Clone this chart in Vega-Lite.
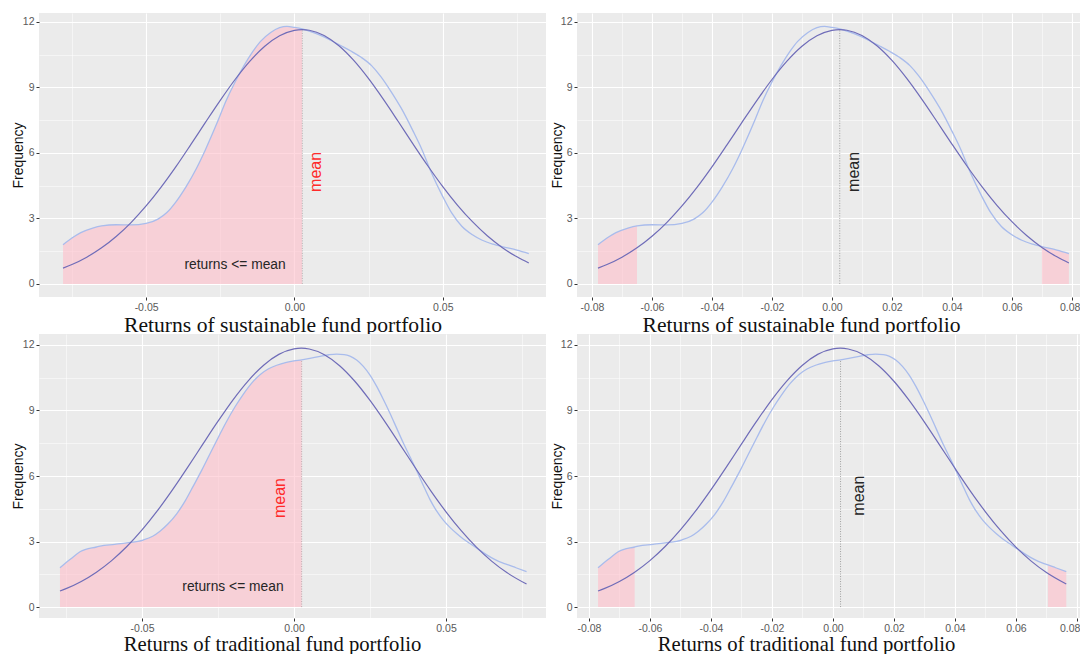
{
  "$schema": "https://vega.github.io/schema/vega-lite/v6.json",
  "padding": {"left": 11, "top": 13, "right": 0, "bottom": 0},
  "bounds": "flush",
  "columns": 2,
  "spacing": {"row": 37, "column": 31},
  "datasets": {
    "sus_norm": [
      {"x": -0.078, "y": 0.725}, {"x": -0.075, "y": 0.888}, {"x": -0.07, "y": 1.224}, {"x": -0.065, "y": 1.651},
      {"x": -0.06, "y": 2.182}, {"x": -0.055, "y": 2.822}, {"x": -0.05, "y": 3.57}, {"x": -0.045, "y": 4.421},
      {"x": -0.04, "y": 5.361}, {"x": -0.035, "y": 6.368}, {"x": -0.03, "y": 7.399}, {"x": -0.025, "y": 8.41},
      {"x": -0.02, "y": 9.364}, {"x": -0.015, "y": 10.205}, {"x": -0.01, "y": 10.886}, {"x": -0.005, "y": 11.366},
      {"x": 0, "y": 11.616}, {"x": 0.0026, "y": 11.65}, {"x": 0.005, "y": 11.621}, {"x": 0.01, "y": 11.381},
      {"x": 0.015, "y": 10.909}, {"x": 0.02, "y": 10.236}, {"x": 0.025, "y": 9.4}, {"x": 0.03, "y": 8.451},
      {"x": 0.035, "y": 7.438}, {"x": 0.04, "y": 6.406}, {"x": 0.045, "y": 5.402}, {"x": 0.05, "y": 4.458},
      {"x": 0.055, "y": 3.602}, {"x": 0.06, "y": 2.85}, {"x": 0.065, "y": 2.204}, {"x": 0.07, "y": 1.671},
      {"x": 0.075, "y": 1.24}, {"x": 0.079, "y": 0.961}
    ],
    "sus_kde": [
      {"x": -0.078, "y": 1.79}, {"x": -0.075, "y": 2.1}, {"x": -0.072, "y": 2.35}, {"x": -0.068, "y": 2.56},
      {"x": -0.065, "y": 2.66}, {"x": -0.06, "y": 2.71}, {"x": -0.055, "y": 2.7}, {"x": -0.05, "y": 2.77},
      {"x": -0.046, "y": 2.97}, {"x": -0.043, "y": 3.27}, {"x": -0.04, "y": 3.75}, {"x": -0.0365, "y": 4.46},
      {"x": -0.033, "y": 5.3}, {"x": -0.03, "y": 6.15}, {"x": -0.026, "y": 7.4}, {"x": -0.023, "y": 8.4},
      {"x": -0.02, "y": 9.25}, {"x": -0.017, "y": 10.0}, {"x": -0.014, "y": 10.65}, {"x": -0.0115, "y": 11.1},
      {"x": -0.008, "y": 11.52}, {"x": -0.005, "y": 11.74}, {"x": -0.0025, "y": 11.8}, {"x": 0, "y": 11.75},
      {"x": 0.0026, "y": 11.68}, {"x": 0.006, "y": 11.53}, {"x": 0.009, "y": 11.37}, {"x": 0.0125, "y": 11.14},
      {"x": 0.0156, "y": 10.92}, {"x": 0.019, "y": 10.67}, {"x": 0.0225, "y": 10.38}, {"x": 0.026, "y": 10.0},
      {"x": 0.029, "y": 9.52}, {"x": 0.033, "y": 8.72}, {"x": 0.036, "y": 8.05}, {"x": 0.04, "y": 7.0},
      {"x": 0.043, "y": 6.15}, {"x": 0.046, "y": 5.15}, {"x": 0.05, "y": 4.0}, {"x": 0.053, "y": 3.25},
      {"x": 0.0565, "y": 2.63}, {"x": 0.06, "y": 2.25}, {"x": 0.0633, "y": 2.0}, {"x": 0.067, "y": 1.82},
      {"x": 0.07, "y": 1.71}, {"x": 0.075, "y": 1.55}, {"x": 0.079, "y": 1.39}
    ],
    "trad_norm": [
      {"x": -0.077, "y": 0.735}, {"x": -0.075, "y": 0.844}, {"x": -0.07, "y": 1.174}, {"x": -0.065, "y": 1.599},
      {"x": -0.06, "y": 2.128}, {"x": -0.055, "y": 2.771}, {"x": -0.05, "y": 3.53}, {"x": -0.045, "y": 4.399},
      {"x": -0.04, "y": 5.363}, {"x": -0.035, "y": 6.393}, {"x": -0.03, "y": 7.458}, {"x": -0.025, "y": 8.508},
      {"x": -0.02, "y": 9.5}, {"x": -0.015, "y": 10.369}, {"x": -0.01, "y": 11.073}, {"x": -0.005, "y": 11.567},
      {"x": 0, "y": 11.82}, {"x": 0.0024, "y": 11.85}, {"x": 0.005, "y": 11.815}, {"x": 0.01, "y": 11.551},
      {"x": 0.015, "y": 11.049}, {"x": 0.02, "y": 10.337}, {"x": 0.025, "y": 9.46}, {"x": 0.03, "y": 8.468},
      {"x": 0.035, "y": 7.416}, {"x": 0.04, "y": 6.353}, {"x": 0.045, "y": 5.322}, {"x": 0.05, "y": 4.362},
      {"x": 0.055, "y": 3.498}, {"x": 0.06, "y": 2.743}, {"x": 0.065, "y": 2.105}, {"x": 0.07, "y": 1.58},
      {"x": 0.0765, "y": 1.052}
    ],
    "trad_kde": [
      {"x": -0.077, "y": 1.8}, {"x": -0.0735, "y": 2.2}, {"x": -0.0704, "y": 2.53}, {"x": -0.065, "y": 2.75},
      {"x": -0.0638, "y": 2.79}, {"x": -0.059, "y": 2.87}, {"x": -0.055, "y": 2.94}, {"x": -0.0496, "y": 3.07},
      {"x": -0.0465, "y": 3.24}, {"x": -0.0441, "y": 3.47}, {"x": -0.0415, "y": 3.8}, {"x": -0.0386, "y": 4.27},
      {"x": -0.0358, "y": 4.86}, {"x": -0.0331, "y": 5.55}, {"x": -0.0303, "y": 6.28}, {"x": -0.0276, "y": 7.03},
      {"x": -0.0248, "y": 7.8}, {"x": -0.0221, "y": 8.52}, {"x": -0.0194, "y": 9.17}, {"x": -0.0167, "y": 9.74},
      {"x": -0.014, "y": 10.24}, {"x": -0.0112, "y": 10.64}, {"x": -0.0085, "y": 10.9}, {"x": -0.0057, "y": 11.07},
      {"x": -0.0025, "y": 11.2}, {"x": 0, "y": 11.27}, {"x": 0.0025, "y": 11.32}, {"x": 0.0056, "y": 11.4},
      {"x": 0.0086, "y": 11.48}, {"x": 0.0115, "y": 11.55}, {"x": 0.014, "y": 11.58}, {"x": 0.0165, "y": 11.56},
      {"x": 0.0184, "y": 11.49}, {"x": 0.0206, "y": 11.31}, {"x": 0.0228, "y": 11.02}, {"x": 0.025, "y": 10.62},
      {"x": 0.0272, "y": 10.1}, {"x": 0.0294, "y": 9.5}, {"x": 0.0316, "y": 8.86}, {"x": 0.0338, "y": 8.18},
      {"x": 0.036, "y": 7.5}, {"x": 0.0382, "y": 6.87}, {"x": 0.0404, "y": 6.23}, {"x": 0.0425, "y": 5.58},
      {"x": 0.0447, "y": 4.93}, {"x": 0.0469, "y": 4.4}, {"x": 0.0491, "y": 3.98}, {"x": 0.0513, "y": 3.65},
      {"x": 0.0535, "y": 3.37}, {"x": 0.0557, "y": 3.12}, {"x": 0.0579, "y": 2.91}, {"x": 0.0606, "y": 2.65},
      {"x": 0.0634, "y": 2.39}, {"x": 0.066, "y": 2.18}, {"x": 0.0688, "y": 2.01}, {"x": 0.0705, "y": 1.93},
      {"x": 0.073, "y": 1.8}, {"x": 0.0765, "y": 1.62}
    ]
  },
  "concat": [
    {
      "width": 507, "height": 284,
      "encoding": {
        "x": {"field": "x", "type": "quantitative", "scale": {"domain": [-0.0861, 0.0848], "nice": false, "zero": false},
          "axis": {"title": "Returns of sustainable fund portfolio", "titleX": 243.5, "titleY": 34, "titleFontSize": 21.6,
            "values": [-0.075, -0.05, -0.025, 0, 0.025, 0.05, 0.075],
            "labelExpr": "abs(datum.value*20 - round(datum.value*20)) < 0.01 ? replace(format(datum.value, '.2f'), '\u2212', '-') : ''",
            "gridWidth": {"condition": {"test": "abs(datum.value*20 - round(datum.value*20)) < 0.01", "value": 1.1}, "value": 0.5},
            "tickOpacity": {"condition": {"test": "abs(datum.value*20 - round(datum.value*20)) < 0.01", "value": 1}, "value": 0}}},
        "y": {"field": "y", "type": "quantitative", "scale": {"domain": [-0.6, 12.41], "nice": false, "zero": false},
          "axis": {"title": "Frequency", "titleX": -21,
            "values": [0, 1.5, 3, 4.5, 6, 7.5, 9, 10.5, 12],
            "labelExpr": "datum.value % 3 === 0 ? datum.label : ''",
            "gridWidth": {"condition": {"test": "datum.value % 3 === 0", "value": 1.1}, "value": 0.5},
            "tickOpacity": {"condition": {"test": "datum.value % 3 === 0", "value": 1}, "value": 0}}}
      },
      "layer": [
        {"data": {"values": [{"x": 0.0026, "y": 0, "ytop": 11.68}]},
          "mark": {"type": "rule", "color": "#8c8c8c", "strokeDash": [1, 1.5], "strokeWidth": 0.8},
          "encoding": {"y2": {"field": "ytop"}}},
        {"data": {"name": "sus_kde"}, "transform": [{"filter": "datum.x <= 0.0026"}],
          "mark": {"type": "area", "color": "#FFC0CB", "opacity": 0.62, "interpolate": "monotone"}, "encoding": {}},
        {"data": {"name": "sus_kde"}, "mark": {"type": "line", "color": "#a9bcec", "strokeWidth": 1.3, "interpolate": "monotone"}, "encoding": {}},
        {"data": {"name": "sus_norm"}, "mark": {"type": "line", "color": "#6f6cb8", "strokeWidth": 1.2, "interpolate": "monotone"}, "encoding": {}},
        {"data": {"values": [{"x": 0.0073, "y": 5.13, "label": "mean"}]},
          "mark": {"type": "text", "angle": 270, "color": "#ff2a2a", "fontSize": 16, "align": "center", "baseline": "middle"},
          "encoding": {"text": {"field": "label"}}},
        {"data": {"values": [{"x": -0.02, "y": 0.87, "label": "returns <= mean"}]},
          "mark": {"type": "text", "color": "#262626", "fontSize": 13.8, "align": "center", "baseline": "middle"},
          "encoding": {"text": {"field": "label"}}}
      ]
    },
    {
      "width": 503, "height": 284,
      "encoding": {
        "x": {"field": "x", "type": "quantitative", "scale": {"domain": [-0.085, 0.0827], "nice": false, "zero": false},
          "axis": {"title": "Returns of sustainable fund portfolio", "titleX": 224, "titleY": 34, "titleFontSize": 21.6,
            "values": [-0.08, -0.07, -0.06, -0.05, -0.04, -0.03, -0.02, -0.01, 0, 0.01, 0.02, 0.03, 0.04, 0.05, 0.06, 0.07, 0.08],
            "labelFlush": 10, "labelFlushOffset": 8,
            "labelExpr": "abs(round(datum.value*100)) % 2 === 0 ? replace(format(datum.value, '.2f'), '\u2212', '-') : ''",
            "gridWidth": {"condition": {"test": "abs(round(datum.value*100)) % 2 === 0", "value": 1.1}, "value": 0.5},
            "tickOpacity": {"condition": {"test": "abs(round(datum.value*100)) % 2 === 0", "value": 1}, "value": 0}}},
        "y": {"field": "y", "type": "quantitative", "scale": {"domain": [-0.6, 12.41], "nice": false, "zero": false},
          "axis": {"title": "Frequency", "titleX": -20,
            "values": [0, 1.5, 3, 4.5, 6, 7.5, 9, 10.5, 12],
            "labelExpr": "datum.value % 3 === 0 ? datum.label : ''",
            "gridWidth": {"condition": {"test": "datum.value % 3 === 0", "value": 1.1}, "value": 0.5},
            "tickOpacity": {"condition": {"test": "datum.value % 3 === 0", "value": 1}, "value": 0}}}
      },
      "layer": [
        {"data": {"name": "sus_kde"}, "transform": [{"filter": "datum.x <= -0.065"}],
          "mark": {"type": "area", "color": "#FFC0CB", "opacity": 0.62, "interpolate": "monotone"}, "encoding": {}},
        {"data": {"name": "sus_kde"}, "transform": [{"filter": "datum.x >= 0.07"}],
          "mark": {"type": "area", "color": "#FFC0CB", "opacity": 0.62, "interpolate": "monotone"}, "encoding": {}},
        {"data": {"values": [{"x": 0.0026, "y": 0, "ytop": 11.68}]},
          "mark": {"type": "rule", "color": "#8c8c8c", "strokeDash": [1, 1.5], "strokeWidth": 0.8},
          "encoding": {"y2": {"field": "ytop"}}},
        {"data": {"name": "sus_kde"}, "mark": {"type": "line", "color": "#a9bcec", "strokeWidth": 1.3, "interpolate": "monotone"}, "encoding": {}},
        {"data": {"name": "sus_norm"}, "mark": {"type": "line", "color": "#6f6cb8", "strokeWidth": 1.2, "interpolate": "monotone"}, "encoding": {}},
        {"data": {"values": [{"x": 0.0073, "y": 5.13, "label": "mean"}]},
          "mark": {"type": "text", "angle": 270, "color": "#262626", "fontSize": 16, "align": "center", "baseline": "middle"},
          "encoding": {"text": {"field": "label"}}}
      ]
    },
    {
      "width": 507, "height": 284,
      "encoding": {
        "x": {"field": "x", "type": "quantitative", "scale": {"domain": [-0.0839, 0.0829], "nice": false, "zero": false},
          "axis": {"title": "Returns of traditional fund portfolio", "titleX": 233, "titleY": 32, "titleFontSize": 20.7,
            "values": [-0.075, -0.05, -0.025, 0, 0.025, 0.05, 0.075],
            "labelExpr": "abs(datum.value*20 - round(datum.value*20)) < 0.01 ? replace(format(datum.value, '.2f'), '\u2212', '-') : ''",
            "gridWidth": {"condition": {"test": "abs(datum.value*20 - round(datum.value*20)) < 0.01", "value": 1.1}, "value": 0.5},
            "tickOpacity": {"condition": {"test": "abs(datum.value*20 - round(datum.value*20)) < 0.01", "value": 1}, "value": 0}}},
        "y": {"field": "y", "type": "quantitative", "scale": {"domain": [-0.5, 12.5], "nice": false, "zero": false},
          "axis": {"title": "Frequency", "titleX": -21,
            "values": [0, 1.5, 3, 4.5, 6, 7.5, 9, 10.5, 12],
            "labelExpr": "datum.value % 3 === 0 ? datum.label : ''",
            "gridWidth": {"condition": {"test": "datum.value % 3 === 0", "value": 1.1}, "value": 0.5},
            "tickOpacity": {"condition": {"test": "datum.value % 3 === 0", "value": 1}, "value": 0}}}
      },
      "layer": [
        {"data": {"values": [{"x": 0.0025, "y": 0, "ytop": 11.32}]},
          "mark": {"type": "rule", "color": "#8c8c8c", "strokeDash": [1, 1.5], "strokeWidth": 0.8},
          "encoding": {"y2": {"field": "ytop"}}},
        {"data": {"name": "trad_kde"}, "transform": [{"filter": "datum.x <= 0.0025"}],
          "mark": {"type": "area", "color": "#FFC0CB", "opacity": 0.62, "interpolate": "monotone"}, "encoding": {}},
        {"data": {"name": "trad_kde"}, "mark": {"type": "line", "color": "#a9bcec", "strokeWidth": 1.3, "interpolate": "monotone"}, "encoding": {}},
        {"data": {"name": "trad_norm"}, "mark": {"type": "line", "color": "#6f6cb8", "strokeWidth": 1.2, "interpolate": "monotone"}, "encoding": {}},
        {"data": {"values": [{"x": -0.0046, "y": 4.99, "label": "mean"}]},
          "mark": {"type": "text", "angle": 270, "color": "#ff2a2a", "fontSize": 16, "align": "center", "baseline": "middle"},
          "encoding": {"text": {"field": "label"}}},
        {"data": {"values": [{"x": -0.0201, "y": 0.92, "label": "returns <= mean"}]},
          "mark": {"type": "text", "color": "#262626", "fontSize": 13.8, "align": "center", "baseline": "middle"},
          "encoding": {"text": {"field": "label"}}}
      ]
    },
    {
      "width": 503, "height": 284,
      "encoding": {
        "x": {"field": "x", "type": "quantitative", "scale": {"domain": [-0.0839, 0.081], "nice": false, "zero": false},
          "axis": {"title": "Returns of traditional fund portfolio", "titleX": 229, "titleY": 32, "titleFontSize": 20.7,
            "values": [-0.08, -0.07, -0.06, -0.05, -0.04, -0.03, -0.02, -0.01, 0, 0.01, 0.02, 0.03, 0.04, 0.05, 0.06, 0.07, 0.08],
            "labelFlush": 9, "labelFlushOffset": 3,
            "labelExpr": "abs(round(datum.value*100)) % 2 === 0 ? replace(format(datum.value, '.2f'), '\u2212', '-') : ''",
            "gridWidth": {"condition": {"test": "abs(round(datum.value*100)) % 2 === 0", "value": 1.1}, "value": 0.5},
            "tickOpacity": {"condition": {"test": "abs(round(datum.value*100)) % 2 === 0", "value": 1}, "value": 0}}},
        "y": {"field": "y", "type": "quantitative", "scale": {"domain": [-0.5, 12.5], "nice": false, "zero": false},
          "axis": {"title": "Frequency", "titleX": -20,
            "values": [0, 1.5, 3, 4.5, 6, 7.5, 9, 10.5, 12],
            "labelExpr": "datum.value % 3 === 0 ? datum.label : ''",
            "gridWidth": {"condition": {"test": "datum.value % 3 === 0", "value": 1.1}, "value": 0.5},
            "tickOpacity": {"condition": {"test": "datum.value % 3 === 0", "value": 1}, "value": 0}}}
      },
      "layer": [
        {"data": {"name": "trad_kde"}, "transform": [{"filter": "datum.x <= -0.065"}],
          "mark": {"type": "area", "color": "#FFC0CB", "opacity": 0.62, "interpolate": "monotone"}, "encoding": {}},
        {"data": {"name": "trad_kde"}, "transform": [{"filter": "datum.x >= 0.0705"}],
          "mark": {"type": "area", "color": "#FFC0CB", "opacity": 0.62, "interpolate": "monotone"}, "encoding": {}},
        {"data": {"values": [{"x": 0.0025, "y": 0, "ytop": 11.32}]},
          "mark": {"type": "rule", "color": "#8c8c8c", "strokeDash": [1, 1.5], "strokeWidth": 0.8},
          "encoding": {"y2": {"field": "ytop"}}},
        {"data": {"name": "trad_kde"}, "mark": {"type": "line", "color": "#a9bcec", "strokeWidth": 1.3, "interpolate": "monotone"}, "encoding": {}},
        {"data": {"name": "trad_norm"}, "mark": {"type": "line", "color": "#6f6cb8", "strokeWidth": 1.2, "interpolate": "monotone"}, "encoding": {}},
        {"data": {"values": [{"x": 0.0085, "y": 5.1, "label": "mean"}]},
          "mark": {"type": "text", "angle": 270, "color": "#262626", "fontSize": 16, "align": "center", "baseline": "middle"},
          "encoding": {"text": {"field": "label"}}}
      ]
    }
  ],
  "config": {
    "view": {"fill": "#EBEBEB", "stroke": null},
    "axis": {"domain": false, "grid": true, "gridColor": "#ffffff", "tickColor": "#333333", "tickSize": 3, "tickWidth": 1,
      "labelColor": "#5a5a5a", "labelFont": "Liberation Sans", "labelFontSize": 10.5, "labelPadding": 2, "labelOverlap": false,
      "titleColor": "#111111", "titleFontWeight": "normal"},
    "axisX": {"titleFont": "Liberation Serif", "titleFontSize": 21, "titleBaseline": "alphabetic", "titleAlign": "center"},
    "axisY": {"titleFont": "Liberation Sans", "titleFontSize": 14, "titleBaseline": "middle", "titleAlign": "center"},
    "text": {"font": "Liberation Sans"}
  }
}
